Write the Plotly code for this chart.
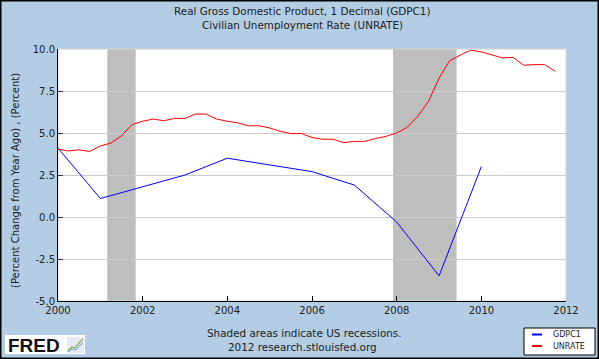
import plotly.graph_objects as go

# ---- data ----
gdp_dates = ["2000-01-01", "2001-01-01", "2002-01-01", "2003-01-01", "2004-01-01",
             "2005-01-01", "2006-01-01", "2007-01-01", "2008-01-01", "2009-01-01",
             "2010-01-01"]
gdp_values = [4.1, 1.1, 1.8, 2.5, 3.5, 3.1, 2.7, 1.9, -0.3, -3.5, 3.0]

unrate_dates = [f"{y}-{m:02d}-01" for y in range(2000, 2012) for m in (1, 4, 7, 10)]
unrate_values = [4.03, 3.93, 4.00, 3.90,
                 4.23, 4.40, 4.83, 5.50,
                 5.70, 5.83, 5.73, 5.87,
                 5.87, 6.13, 6.13, 5.83,
                 5.70, 5.60, 5.43, 5.43,
                 5.30, 5.10, 4.97, 4.97,
                 4.73, 4.63, 4.63, 4.43,
                 4.50, 4.50, 4.67, 4.80,
                 5.00, 5.33, 6.00, 6.87,
                 8.27, 9.30, 9.63, 9.93,
                 9.83, 9.63, 9.47, 9.50,
                 9.03, 9.07, 9.07, 8.67]

recession_starts = ["2001-03-01", "2007-12-01"]
recession_ends = ["2001-11-01", "2009-06-01"]

y_ticks = [-5.0, -2.5, 0.0, 2.5, 5.0, 7.5, 10.0]
y_tick_labels = ["-5.0", "-2.5", "0.0", "2.5", "5.0", "7.5", "10.0"]
x_ticks = ["2000-01-01", "2002-01-01", "2004-01-01", "2006-01-01",
           "2008-01-01", "2010-01-01", "2012-01-01"]
x_tick_labels = ["2000", "2002", "2004", "2006", "2008", "2010", "2012"]

# ---- layout geometry (pixels) ----
W_IMG, H_IMG = 599, 359
L, R, T, B = 58, 566, 49, 301
PW, PH = R - L, B - T


def px(x):
    return (x - L) / PW


def py(y):
    return (B - y) / PH


BG = "#B3CDE4"
FONT = "DejaVu Sans"
TXT = "#222222"
BLUE = "#0000FF"
RED = "#FF0000"

fig = go.Figure()
fig.add_trace(go.Scatter(x=gdp_dates, y=gdp_values, mode="lines", name="GDPC1",
                         line=dict(color=BLUE, width=1), showlegend=False))
fig.add_trace(go.Scatter(x=unrate_dates, y=unrate_values, mode="lines", name="UNRATE",
                         line=dict(color=RED, width=1), showlegend=False))

shapes = []
for s, e in zip(recession_starts, recession_ends):
    shapes.append(dict(type="rect", xref="x", yref="paper", x0=s, x1=e, y0=0, y1=1,
                       fillcolor="#BEBEBE", line=dict(width=0), layer="below"))
# light plot frame
shapes.append(dict(type="rect", xref="paper", yref="paper", x0=0, x1=1, y0=0, y1=1,
                   line=dict(color="#D4D4D4", width=1), fillcolor="rgba(0,0,0,0)", layer="below"))
# outer black border
shapes.append(dict(type="rect", xref="paper", yref="paper",
                   x0=px(0.75), x1=px(W_IMG - 0.75), y0=py(H_IMG - 0.75), y1=py(0.75),
                   line=dict(color="black", width=1.5), fillcolor="rgba(0,0,0,0)"))
# legend box
shapes.append(dict(type="rect", xref="paper", yref="paper",
                   x0=px(524), x1=px(595), y0=py(355), y1=py(328),
                   line=dict(color="black", width=1), fillcolor="white"))
shapes.append(dict(type="line", xref="paper", yref="paper",
                   x0=px(532), x1=px(542), y0=py(334.5), y1=py(334.5),
                   line=dict(color=BLUE, width=2)))
shapes.append(dict(type="line", xref="paper", yref="paper",
                   x0=px(532), x1=px(542), y0=py(346), y1=py(346),
                   line=dict(color=RED, width=2)))
# FRED logo box
shapes.append(dict(type="rect", xref="paper", yref="paper",
                   x0=px(5), x1=px(85), y0=py(354), y1=py(335),
                   line=dict(width=0), fillcolor="white"))
shapes.append(dict(type="rect", xref="paper", yref="paper",
                   x0=px(67), x1=px(84), y0=py(353), y1=py(337),
                   line=dict(width=0), fillcolor="#E4EAF0"))
shapes.append(dict(type="path", xref="paper", yref="paper",
                   path=f"M {px(68)},{py(351)} L {px(72)},{py(347)} L {px(75)},{py(348)} "
                        f"L {px(79)},{py(343)} L {px(83)},{py(339)}",
                   line=dict(color="#7FAF5A", width=1.2)))
shapes.append(dict(type="path", xref="paper", yref="paper",
                   path=f"M {px(68)},{py(352)} L {px(72)},{py(349)} L {px(76)},{py(350)} "
                        f"L {px(80)},{py(345)} L {px(83)},{py(343)}",
                   line=dict(color="#7F9FCF", width=1)))

annotations = [
    dict(text="Real Gross Domestic Product, 1 Decimal (GDPC1)", x=px(302), y=py(11)),
    dict(text="Civilian Unemployment Rate (UNRATE)", x=px(302), y=py(25)),
    dict(text="Shaded areas indicate US recessions.", x=px(304), y=py(333)),
    dict(text="2012 research.stlouisfed.org", x=px(302), y=py(347)),
]
annotations = [dict(a, xref="paper", yref="paper", xanchor="center", yanchor="middle",
                    showarrow=False, font=dict(family=FONT, size=10.4, color=TXT))
               for a in annotations]
annotations.append(dict(text="(Percent Change from Year Ago) , (Percent)", x=px(15), y=py(181),
                        xref="paper", yref="paper", xanchor="center", yanchor="middle",
                        textangle=-90, showarrow=False,
                        font=dict(family=FONT, size=10, color=TXT)))
annotations.append(dict(text="GDPC1", x=px(551), y=py(334.5), xref="paper", yref="paper",
                        xanchor="left", yanchor="middle", showarrow=False,
                        font=dict(family=FONT, size=8, color=TXT)))
annotations.append(dict(text="UNRATE", x=px(551), y=py(346), xref="paper", yref="paper",
                        xanchor="left", yanchor="middle", showarrow=False,
                        font=dict(family=FONT, size=8, color=TXT)))
annotations.append(dict(text="<b>FRED</b>", x=px(6), y=py(345), xref="paper", yref="paper",
                        xanchor="left", yanchor="middle", showarrow=False,
                        font=dict(family="Liberation Sans", size=19, color="#111111")))

fig.update_layout(
    width=W_IMG, height=H_IMG,
    margin=dict(l=L, r=W_IMG - R, t=T, b=H_IMG - B, pad=0),
    paper_bgcolor=BG, plot_bgcolor="white",
    font=dict(family=FONT, size=10, color=TXT),
    shapes=shapes, annotations=annotations,
    showlegend=False,
    xaxis=dict(type="date", range=["2000-01-01", "2012-01-01"],
               tickmode="array", tickvals=x_ticks, ticktext=x_tick_labels,
               ticks="inside", ticklen=5, tickcolor="black", tickwidth=1,
               showline=True, linecolor="black", linewidth=1,
               showgrid=False, zeroline=False,
               tickfont=dict(family=FONT, size=10, color=TXT)),
    yaxis=dict(range=[-5, 10], tickmode="array", tickvals=y_ticks, ticktext=y_tick_labels,
               ticks="inside", ticklen=5, tickcolor="#333333", tickwidth=1,
               showline=True, linecolor="black", linewidth=1,
               showgrid=True, gridcolor="#CCCCCC", gridwidth=1, zeroline=False,
               tickfont=dict(family=FONT, size=10, color=TXT)),
)

fig.write_html("out.html",
               config={"displayModeBar": False},
               post_script="document.body.style.margin='0';"
                           "document.body.style.overflow='hidden';")
